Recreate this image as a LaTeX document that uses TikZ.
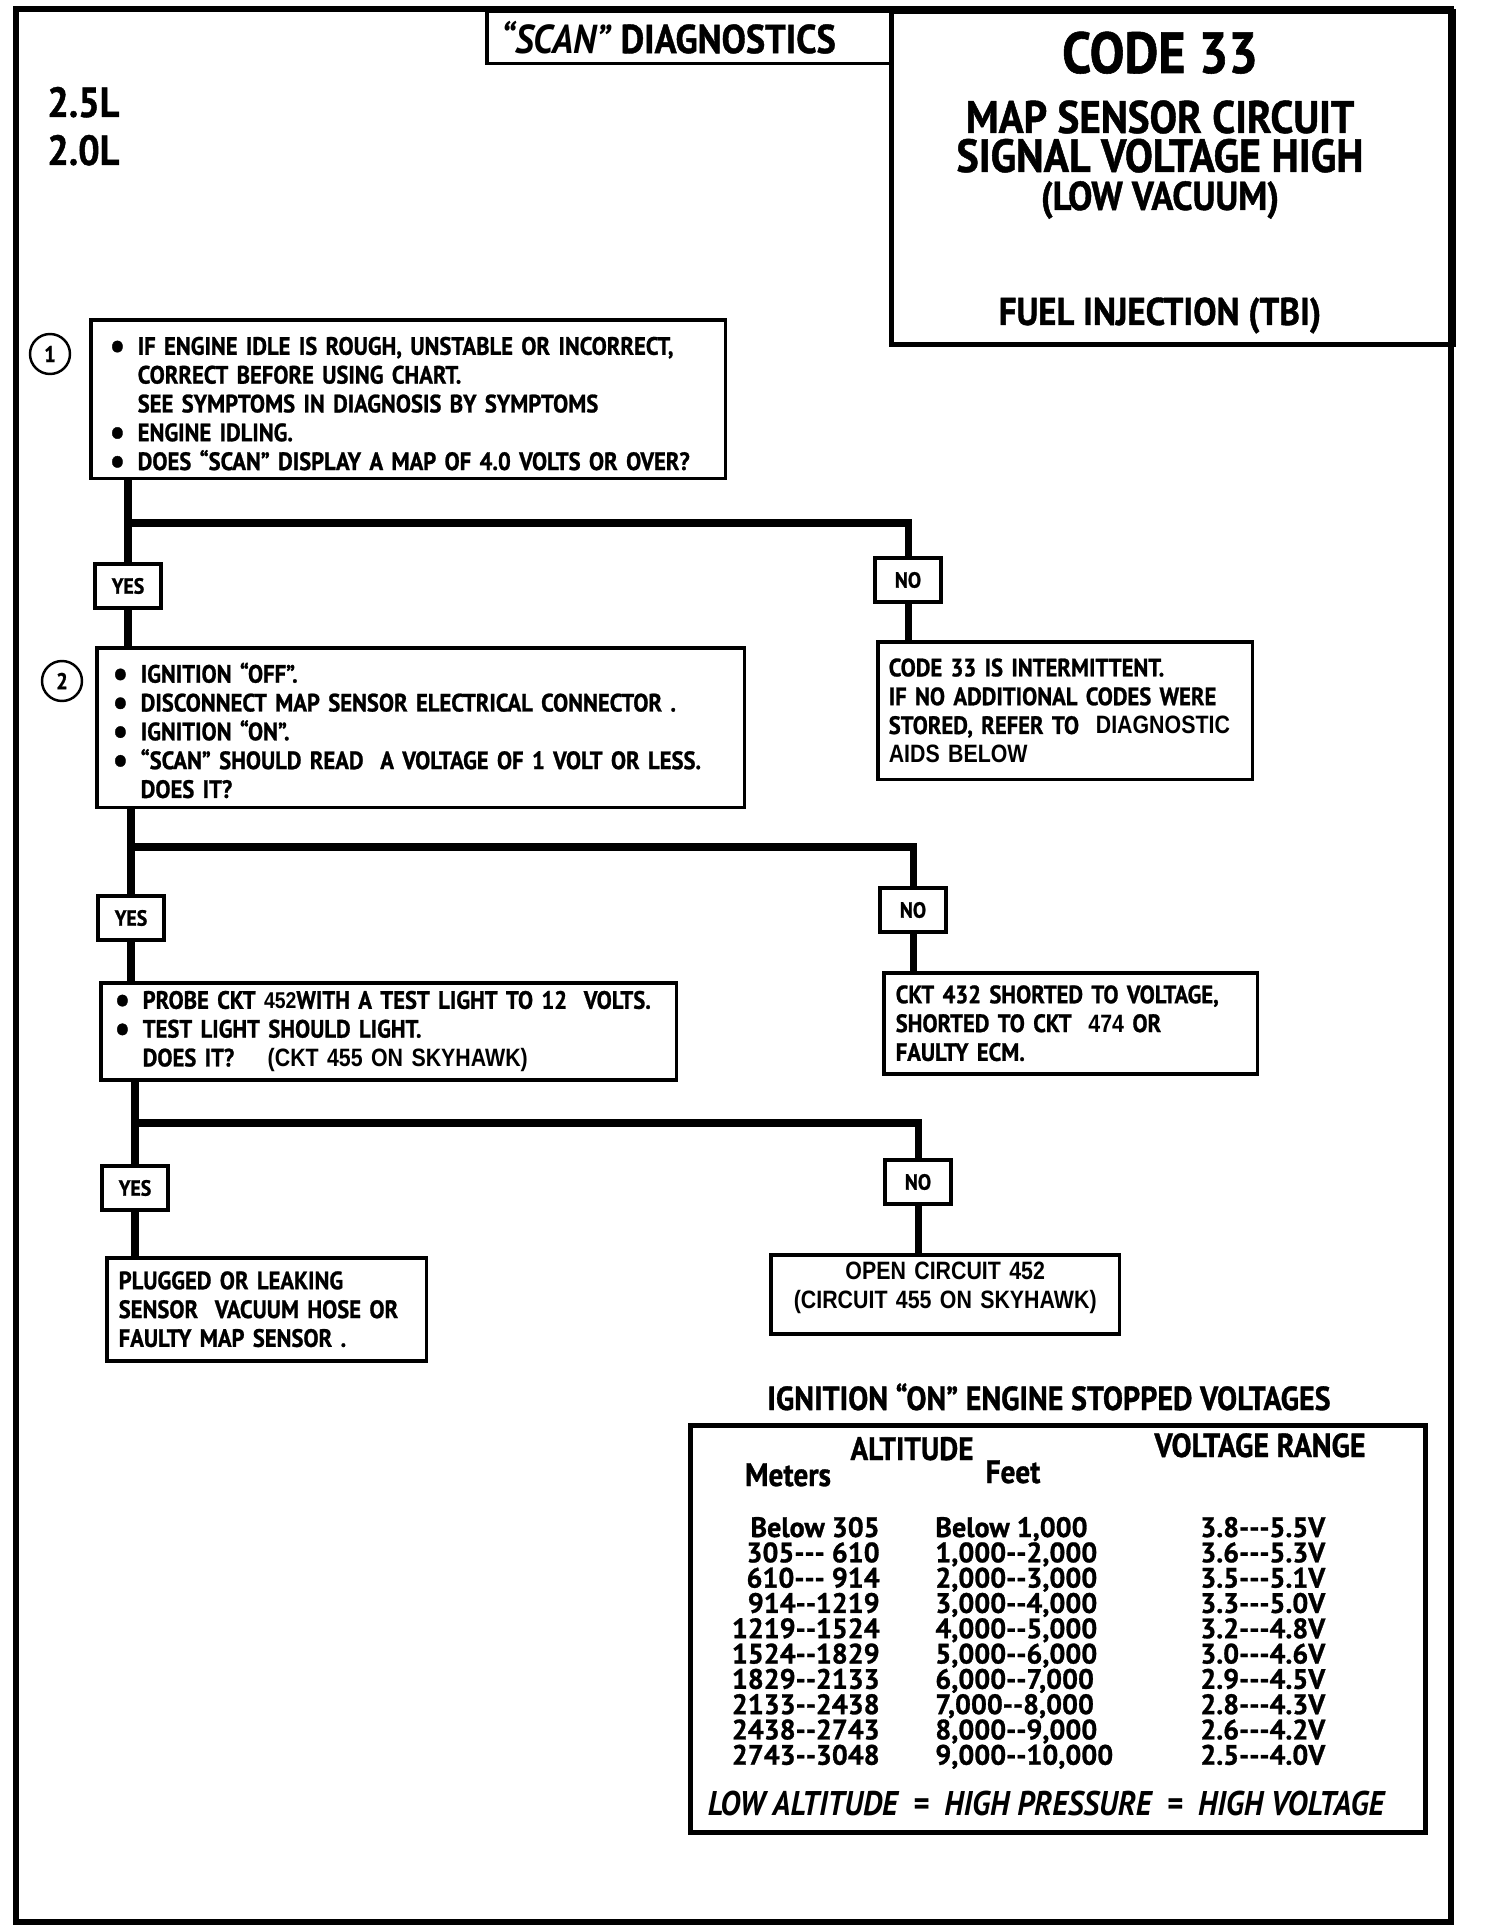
\documentclass[tikz,border=0pt]{standalone}
\usepackage{fontspec}
\setmainfont{PT Sans}[FakeStretch=0.9, BoldFeatures={FakeBold=1}]
\newfontfamily\cellfont{PT Sans}[BoldFeatures={FakeBold=1}]
\newfontfamily\helv{Liberation Sans}[FakeStretch=0.85]
\usetikzlibrary{positioning}

\newcommand\chartsize{\fontsize{14.3}{16.4}\selectfont\bfseries}
\newcommand\bul{\makebox[0.56cm][l]{\raisebox{-0.14em}{\scalebox{1.5}{\textbullet}}}}
\newcommand\gap{\hspace*{0.56cm}}
\newcommand\tdash{-\kern0pt-\kern0pt-}
\newcommand\ddash{-\kern0pt-}

\begin{document}
\begin{tikzpicture}[x=0.02cm, y=-0.02cm,
    chartbox/.style={draw, line width=2pt, inner ysep=0pt, align=left, font=\chartsize},
    yesno/.style={draw, line width=1.8pt, minimum width=1.32cm, minimum height=0.88cm, inner sep=0pt, font=\fontsize{12.5}{12.5}\selectfont\bfseries},
    stepnum/.style={circle, draw, line width=1.4pt, minimum size=0.8cm, inner sep=0pt, font=\fontsize{13}{13}\selectfont\bfseries},
    trunk/.style={line width=4pt},
    head/.style={anchor=base, inner sep=0pt, font=\fontsize{22}{22}\selectfont\bfseries},
    cell/.style={inner sep=0pt, font=\cellfont\fontsize{16}{16}\selectfont\bfseries}]
  \useasboundingbox (0,0) rectangle (1504,1932);
  \draw[line width=3.4pt] (16,9) rectangle (1451,1922);

  % title block
  \node[draw, line width=2pt, anchor=north west, minimum width=8.08cm, minimum height=1.06cm, inner sep=0pt,
    font=\fontsize{23}{23}\selectfont\bfseries] (scan) at (485,9) {\textit{“SCAN”}\ DIAGNOSTICS\hspace*{0.8cm}};
  \node[draw, line width=3pt, anchor=north west, minimum width=11.24cm, minimum height=6.66cm] (codebox) at (889,9) {};
  \node[head, font=\fontsize{33}{33}\selectfont\bfseries] (code) at (1160,73) {CODE 33};
  \node[head, font=\fontsize{26}{26}\selectfont\bfseries] (map) at (1160,133) {MAP SENSOR CIRCUIT};
  \node[head, font=\fontsize{26.5}{26}\selectfont\bfseries] (sig) at (1160,172) {SIGNAL VOLTAGE HIGH};
  \node[head, font=\fontsize{23}{23}\selectfont\bfseries] (vac) at (1160,210) {(LOW VACUUM)};
  \node[head] (fuel) at (1160,325) {FUEL INJECTION (TBI)};
  \node[head, anchor=base west, font=\fontsize{24}{24}\selectfont\bfseries] (eng1) at (47,117) {2.5L};
  \node[head, anchor=base west, font=\fontsize{24}{24}\selectfont\bfseries] (eng2) at (47,165) {2.0L};

  % step 1
  \node[stepnum] (c1) at (50,354) {1};
  \node[chartbox, anchor=north west, text width=11.94cm, inner xsep=0.38cm, minimum height=3.18cm] (q1) at (89,318)
    {\rule{0pt}{17pt}\bul IF ENGINE IDLE IS ROUGH, UNSTABLE OR INCORRECT,\\
     \gap CORRECT BEFORE USING CHART.\\
     \gap SEE SYMPTOMS IN DIAGNOSIS BY SYMPTOMS\\
     \bul ENGINE IDLING.\\
     \bul DOES “SCAN” DISPLAY A MAP OF 4.0 VOLTS OR OVER?};
  \node[yesno] (yes1) at (128,586) {YES};
  \node[yesno] (no1) at (908,580) {NO};
  \coordinate (fork1) at (908,523);

  % step 2
  \node[stepnum] (c2) at (62,681) {2};
  \node[chartbox, anchor=north west, text width=12.32cm, inner xsep=0.32cm, minimum height=3.2cm] (q2) at (95,646)
    {\rule{0pt}{14.5pt}\bul IGNITION “OFF”.\\
     \bul DISCONNECT MAP SENSOR ELECTRICAL CONNECTOR .\\
     \bul IGNITION “ON”.\\
     \bul “SCAN” SHOULD READ\ \ A VOLTAGE OF 1 VOLT OR LESS.\\
     \gap DOES IT?};
  \node[chartbox, anchor=north west, text width=7.06cm, inner xsep=0.22cm, minimum height=2.76cm] (r1) at (876,640)
    {CODE 33 IS INTERMITTENT.\\
     IF NO ADDITIONAL CODES WERE\\
     STORED, REFER TO\ \ {\helv DIAGNOSTIC}\\
     {\helv AIDS BELOW}};
  \node[yesno] (yes2) at (131,918) {YES};
  \node[yesno] (no2) at (913,910) {NO};
  \coordinate (fork2) at (913,847);

  % step 3
  \node[chartbox, anchor=north west, text width=10.96cm, inner xsep=0.28cm, minimum height=1.94cm] (q3) at (99,981)
    {\bul PROBE CKT {\helv\fontsize{13}{13}\selectfont 452}WITH A TEST LIGHT TO 12\ \ VOLTS.\\
     \bul TEST LIGHT SHOULD LIGHT.\\
     \gap DOES IT?\quad\ {\helv (CKT 455 ON SKYHAWK)}};
  \node[chartbox, anchor=north west, text width=7.0cm, inner xsep=0.24cm, minimum height=2.02cm] (r2) at (882,971)
    {CKT 432 SHORTED TO VOLTAGE,\\
     SHORTED TO CKT\ \ {\helv 474} OR\\
     FAULTY ECM.};
  \node[yesno] (yes3) at (135,1188) {YES};
  \node[yesno] (no3) at (918,1182) {NO};
  \coordinate (fork3) at (918,1123);
  \node[chartbox, anchor=north west, text width=5.92cm, inner xsep=0.24cm, minimum height=2.06cm] (r3) at (105,1256)
    {PLUGGED OR LEAKING\\
     SENSOR\ \ VACUUM HOSE OR\\
     FAULTY MAP SENSOR .};
  \node[chartbox, anchor=north west, text width=6.5cm, inner xsep=0.24cm, minimum height=1.58cm, align=center,
    font=\helv\chartsize] (r4) at (769,1253)
    {OPEN CIRCUIT 452\\
     (CIRCUIT 455 ON SKYHAWK)\rule[-10pt]{0pt}{1pt}};

  % connectors
  \draw[trunk] (q1.south -| yes1) -- (yes1);
  \draw[trunk] (yes1) -- (q2.north -| yes1);
  \draw[trunk] (yes1 |- fork1) -- (fork1) -- (no1);
  \draw[trunk] (no1) -- (r1.north -| no1);
  \draw[trunk] (q2.south -| yes2) -- (yes2);
  \draw[trunk] (yes2) -- (q3.north -| yes2);
  \draw[trunk] (yes2 |- fork2) -- (fork2) -- (no2);
  \draw[trunk] (no2) -- (r2.north -| no2);
  \draw[trunk] (q3.south -| yes3) -- (yes3);
  \draw[trunk] (yes3) -- (r3.north -| yes3);
  \draw[trunk] (yes3 |- fork3) -- (fork3) -- (no3);
  \draw[trunk] (no3) -- (r4.north -| no3);

  % voltage table
  \node[head, font=\fontsize{19}{19}\selectfont\bfseries] (ttl) at (1049,1410) {IGNITION “ON” ENGINE STOPPED VOLTAGES};
  \node[draw, line width=2.8pt, anchor=north west, minimum width=14.7cm, minimum height=8.14cm] (tbl) at (688,1423) {};
  \node[head, font=\fontsize{18.5}{18}\selectfont\bfseries] (alt) at (912,1460) {ALTITUDE};
  \node[head, font=\fontsize{19}{19}\selectfont\bfseries] (vr) at (1260,1457) {VOLTAGE RANGE};
  \node[head, font=\fontsize{18.5}{18}\selectfont\bfseries] (mh) at (788,1486) {Meters};
  \node[head, font=\fontsize{18.5}{18}\selectfont\bfseries] (fh) at (1013,1483) {Feet};
  \foreach \m/\f/\v [count=\i from 0] in {
      Below 305/Below 1{,}000/3.8\tdash5.5V,
      305\tdash\ 610/1{,}000\ddash2{,}000/3.6\tdash5.3V,
      610\tdash\ 914/2{,}000\ddash3{,}000/3.5\tdash5.1V,
      914\ddash1219/3{,}000\ddash4{,}000/3.3\tdash5.0V,
      1219\ddash1524/4{,}000\ddash5{,}000/3.2\tdash4.8V,
      1524\ddash1829/5{,}000\ddash6{,}000/3.0\tdash4.6V,
      1829\ddash2133/6{,}000\ddash7{,}000/2.9\tdash4.5V,
      2133\ddash2438/7{,}000\ddash8{,}000/2.8\tdash4.3V,
      2438\ddash2743/8{,}000\ddash9{,}000/2.6\tdash4.2V,
      2743\ddash3048/9{,}000\ddash10{,}000/2.5\tdash4.0V}{
    \node[cell, anchor=base east] (met\i) at (880,1537+25.3*\i) {\m};
    \node[cell, anchor=base west] (ft\i) at (935,1537+25.3*\i) {\f};
    \node[cell, anchor=base west] (volt\i) at (1200,1537+25.3*\i) {\v};
  }
  \node[head, font=\fontsize{19.5}{19}\selectfont\bfseries\itshape] (rule) at (1046,1815)
    {LOW ALTITUDE\ \ =\ \ HIGH PRESSURE\ \ =\ \ HIGH VOLTAGE};
\end{tikzpicture}
\end{document}
